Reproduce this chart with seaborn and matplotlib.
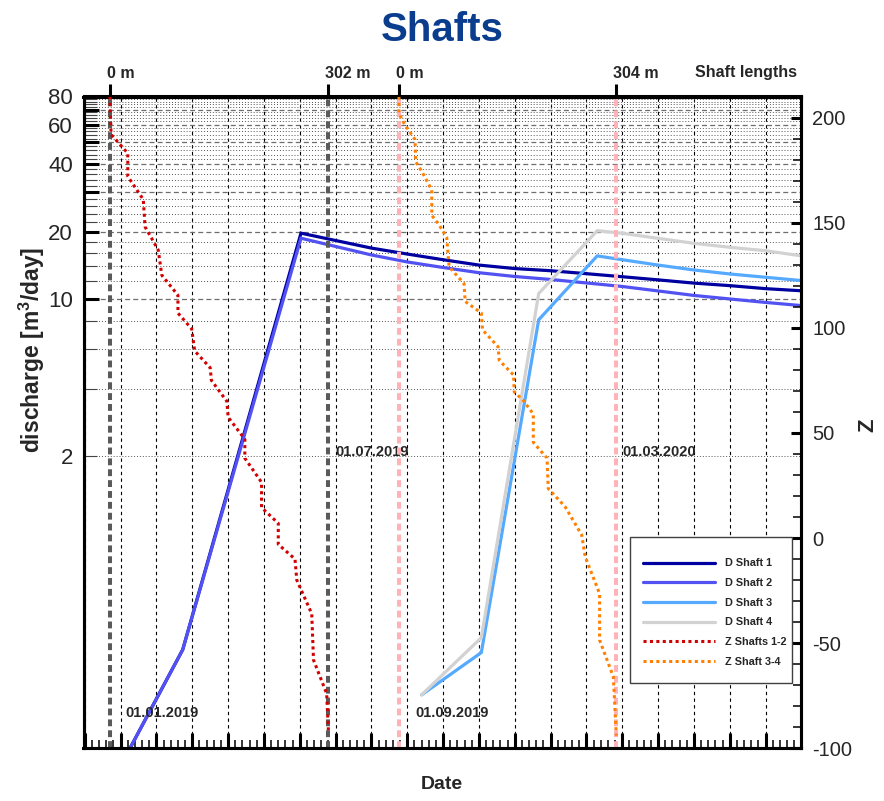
import numpy as np
import pandas as pd
import matplotlib
matplotlib.use("Agg")
import matplotlib.pyplot as plt
import matplotlib.dates as mdates
from matplotlib.patches import Rectangle
from matplotlib.ticker import FixedLocator, FuncFormatter, MultipleLocator, NullFormatter
import seaborn as sns

sns.set_style("ticks")
plt.rcParams["font.family"] = ["Liberation Sans", "DejaVu Sans"]
plt.rcParams["mathtext.fontset"] = "custom"
plt.rcParams["mathtext.rm"] = "Liberation Sans"
plt.rcParams["mathtext.bf"] = "Liberation Sans:bold"
plt.rcParams["axes.unicode_minus"] = False

START = "2019-01-01"

# discharge [m3/day], days counted from 01.01.2019
d12_days = [0, 61, 160, 219, 249, 279, 309, 339, 369, 399, 429, 459, 489, 519, 549, 580]
d1_vals = [0.068, 0.275, 19.7, 16.9, 15.9, 15.0, 14.2, 13.7, 13.4, 13.0, 12.6, 12.2, 11.8, 11.5, 11.15, 10.9]
d2_vals = [0.068, 0.275, 18.7, 15.75, 14.66, 13.85, 13.13, 12.63, 12.25, 11.82, 11.4, 10.89, 10.4, 10.03, 9.68, 9.36]

d34_days = [261, 311, 359, 408, 429, 459, 489, 519, 549, 580]
d3_vals = [0.173, 0.267, 8.1, 15.6, 15.0, 14.2, 13.5, 12.96, 12.53, 12.1]
d4_vals = [0.173, 0.311, 10.6, 20.2, 19.67, 18.68, 17.75, 17.04, 16.45, 15.58]

# shaft bottom elevation Z [m]
z12_days = [0, 1, 15, 15, 28, 29.5, 40.5, 43.5, 57, 57, 68.5, 71, 84, 85, 98, 99,
            113, 113, 127, 127, 141, 141, 155, 156.5, 169, 170.5, 181.5, 183]
z12_vals = [210, 192, 183, 172, 161, 148, 137, 125, 115.5, 107, 99.5, 89, 81, 75, 65, 57.5,
            47, 38, 26.5, 14.5, 7, -3, -10, -20, -36, -58, -74, -92]

z34_days = [242, 242, 247, 255.5, 256, 261, 269.5, 269.5, 275, 282, 284, 296.5, 297.5, 311, 312,
            325, 326, 338, 338.5, 346, 354.5, 354.5, 366, 367, 381, 395, 398, 410, 410, 421.5, 424]
z34_vals = [210, 202, 196.5, 189.5, 179, 174.5, 165.5, 153.5, 149.5, 143, 129, 121, 112.5, 107, 99,
            91, 84.5, 77.5, 69.5, 65.5, 59, 45.5, 38, 23.5, 15, 1.5, -9, -26.5, -48.5, -66, -94]

# start / end of sinking for each shaft pair
shaft12_marks = [0, 183]
shaft34_marks = [242, 424]
length_labels = ["0 m", "302 m", "0 m", "304 m"]
event_labels = ["01.01.2019", "01.07.2019", "01.09.2019", "01.03.2020"]

base = mdates.date2num(pd.Timestamp(START))


def dnum(days):
    return base + np.asarray(days, dtype=float)


PT = 0.72  # points per pixel at 100 dpi
W, H = 884, 801

fig = plt.figure(figsize=(8.84, 8.01), dpi=100)
ax = fig.add_axes([83.5 / W, (H - 748.3) / H, (801 - 83.5) / W, (748.3 - 96.5) / H])
ax.set_yscale("log")
ax2 = ax.twinx()

# discharge curves
d_series = [
    ("D Shaft 1", d12_days, d1_vals, "#0000a0"),
    ("D Shaft 2", d12_days, d2_vals, "#5252f2"),
    ("D Shaft 3", d34_days, d3_vals, "#55aaff"),
    ("D Shaft 4", d34_days, d4_vals, "#d2d2d2"),
]
handles = []
for name, days, vals, col in d_series:
    sns.lineplot(x=dnum(days), y=vals, ax=ax, color=col, lw=2.3, label=name,
                 estimator=None, sort=False, legend=False, solid_joinstyle="miter")
    handles.append(ax.lines[-1])

# shaft start/end markers
for d in shaft12_marks:
    ax2.axvline(dnum([d])[0], color="#5a5a5a", lw=2.9, ls=(0, (1.7, 1.0)), zorder=2)
for d in shaft34_marks:
    ax2.axvline(dnum([d])[0], color="#ffb3b8", lw=2.9, ls=(0, (1.7, 1.0)), zorder=2)

# shaft depth curves
z_series = [
    ("Z Shafts 1-2", z12_days, z12_vals, "#d20000"),
    ("Z Shaft 3-4", z34_days, z34_vals, "#ff8000"),
]
for name, days, vals, col in z_series:
    sns.lineplot(x=dnum(days), y=vals, ax=ax2, color=col, lw=2.2, label=name,
                 estimator=None, sort=False, legend=False, ls=(0, (1, 1.1)),
                 dash_capstyle="butt", zorder=3)
    handles.append(ax2.lines[-1])

# axes ranges
ax.set_xlim(base - 22.06, base + 578.6)
ax.set_ylim(0.1, 80)
ax2.set_ylim(-100, 210)

# bottom (date) axis
ax.xaxis.set_major_locator(FixedLocator(dnum(np.arange(-21, 590, 30))))
ax.xaxis.set_minor_locator(FixedLocator(dnum(np.arange(-21, 590, 6))))
ax.xaxis.set_major_formatter(NullFormatter())
ax.xaxis.set_minor_formatter(NullFormatter())
ax.tick_params(axis="x", which="major", direction="in", length=11, width=2.2, color="black")
ax.tick_params(axis="x", which="minor", direction="in", length=5.5, width=1.1, color="black")

# left (discharge) axis
left_major = [10, 20, 30, 40, 50, 60, 70, 80]
left_minor = [2, 4, 6, 8] + [v for v in range(12, 80, 2) if v % 10]
left_labels = {2, 10, 20, 40, 60, 80}
ax.yaxis.set_major_locator(FixedLocator(left_major))
ax.yaxis.set_minor_locator(FixedLocator(left_minor))
fmt = FuncFormatter(lambda v, p: f"{v:g}" if round(v) in left_labels else "")
ax.yaxis.set_major_formatter(fmt)
ax.yaxis.set_minor_formatter(fmt)
ax.tick_params(axis="y", which="major", direction="in", length=11, width=2.2,
               labelsize=16, pad=7.5, color="black")
ax.tick_params(axis="y", which="minor", direction="in", length=9, width=0.8,
               labelsize=16, pad=7.5, color="#444444")

# grid
ax.grid(True, which="major", axis="x", color="black", lw=0.8, ls=(0, (3, 3)))
ax.grid(True, which="major", axis="y", color="#6e6e6e", lw=0.9, ls=(0, (4, 2.5)))
ax.grid(True, which="minor", axis="y", color="#555555", lw=0.7, ls=(0, (1, 2)))
ax.grid(False, which="minor", axis="x")

# right (Z) axis
ax2.yaxis.set_major_locator(MultipleLocator(50))
ax2.yaxis.set_minor_locator(MultipleLocator(10))
ax2.tick_params(axis="y", which="major", direction="in", length=7.5, width=2.2,
                labelsize=14.5, pad=8, color="black")
ax2.tick_params(axis="y", which="minor", direction="in", length=5.5, width=1.1, color="black")

# top axis: shaft lengths at start / end of sinking
marks = dnum(shaft12_marks + shaft34_marks)
sec = ax.secondary_xaxis("top")
sec.set_xticks(marks)
sec.set_xticklabels([""] * len(marks))
sec.tick_params(direction="out", length=9, width=2.2, color="black")
for m, lbl in zip(marks, length_labels):
    ax.annotate(lbl, xy=(m, 1), xycoords=("data", "axes fraction"),
                xytext=(-3 * PT, 23.5 * PT), textcoords="offset points",
                ha="left", va="center", fontsize=11.5, fontweight="bold")
fig.text(797 / W, 1 - 73 / H, "Shaft lengths", ha="right", va="center",
         fontsize=11.5, fontweight="bold")

for a in (ax, ax2, sec):
    for s in a.spines.values():
        s.set_linewidth(2.2)
        s.set_color("black")

# date annotations next to the shaft markers
ev_y = [0.054, 0.455, 0.054, 0.455]
ev_dx = [16, 7, 16, 6]
for m, txt, yy, dx in zip(marks, event_labels, ev_y, ev_dx):
    ax.annotate(txt, xy=(m, yy), xycoords=("data", "axes fraction"),
                xytext=(dx * PT, 0), textcoords="offset points",
                ha="left", va="center", fontsize=10.5, fontweight="bold")

# labels and title
ax.set_xlabel("Date", fontsize=14, fontweight="bold", va="center")
ax.xaxis.set_label_coords(0.5, -0.0563)
ax.set_ylabel(r"discharge [m$^{\mathbf{3}}$/day]", fontsize=16.5, fontweight="bold",
              va="center", ha="center")
ax.yaxis.set_label_coords(-0.0725, 0.611)
ax2.set_ylabel("Z", fontsize=16, fontweight="bold", va="center", rotation=90)
ax2.yaxis.set_label_coords(1.0934, 0.496)
fig.text(442 / W, 1 - 30 / H, "Shafts", ha="center", va="center",
         fontsize=29, fontweight="bold", color="#0b3d8f")

# legend: box plus entries
box = Rectangle((630 / W, 1 - 683 / H), 162 / W, 146 / H, transform=fig.transFigure,
                facecolor="white", edgecolor="#404040", lw=1.0, zorder=4)
fig.add_artist(box)
leg = fig.legend(handles=handles, labels=[h.get_label() for h in handles],
                 loc="upper left", bbox_to_anchor=(643 / W, 1 - 558.5 / H),
                 bbox_transform=fig.transFigure, borderaxespad=0, borderpad=0,
                 frameon=False, prop={"size": 7.8, "weight": "bold"},
                 handlelength=6.64, handletextpad=0.92, labelspacing=0.89)
leg.set_zorder(5)

fig.savefig("out.png", dpi=100)
